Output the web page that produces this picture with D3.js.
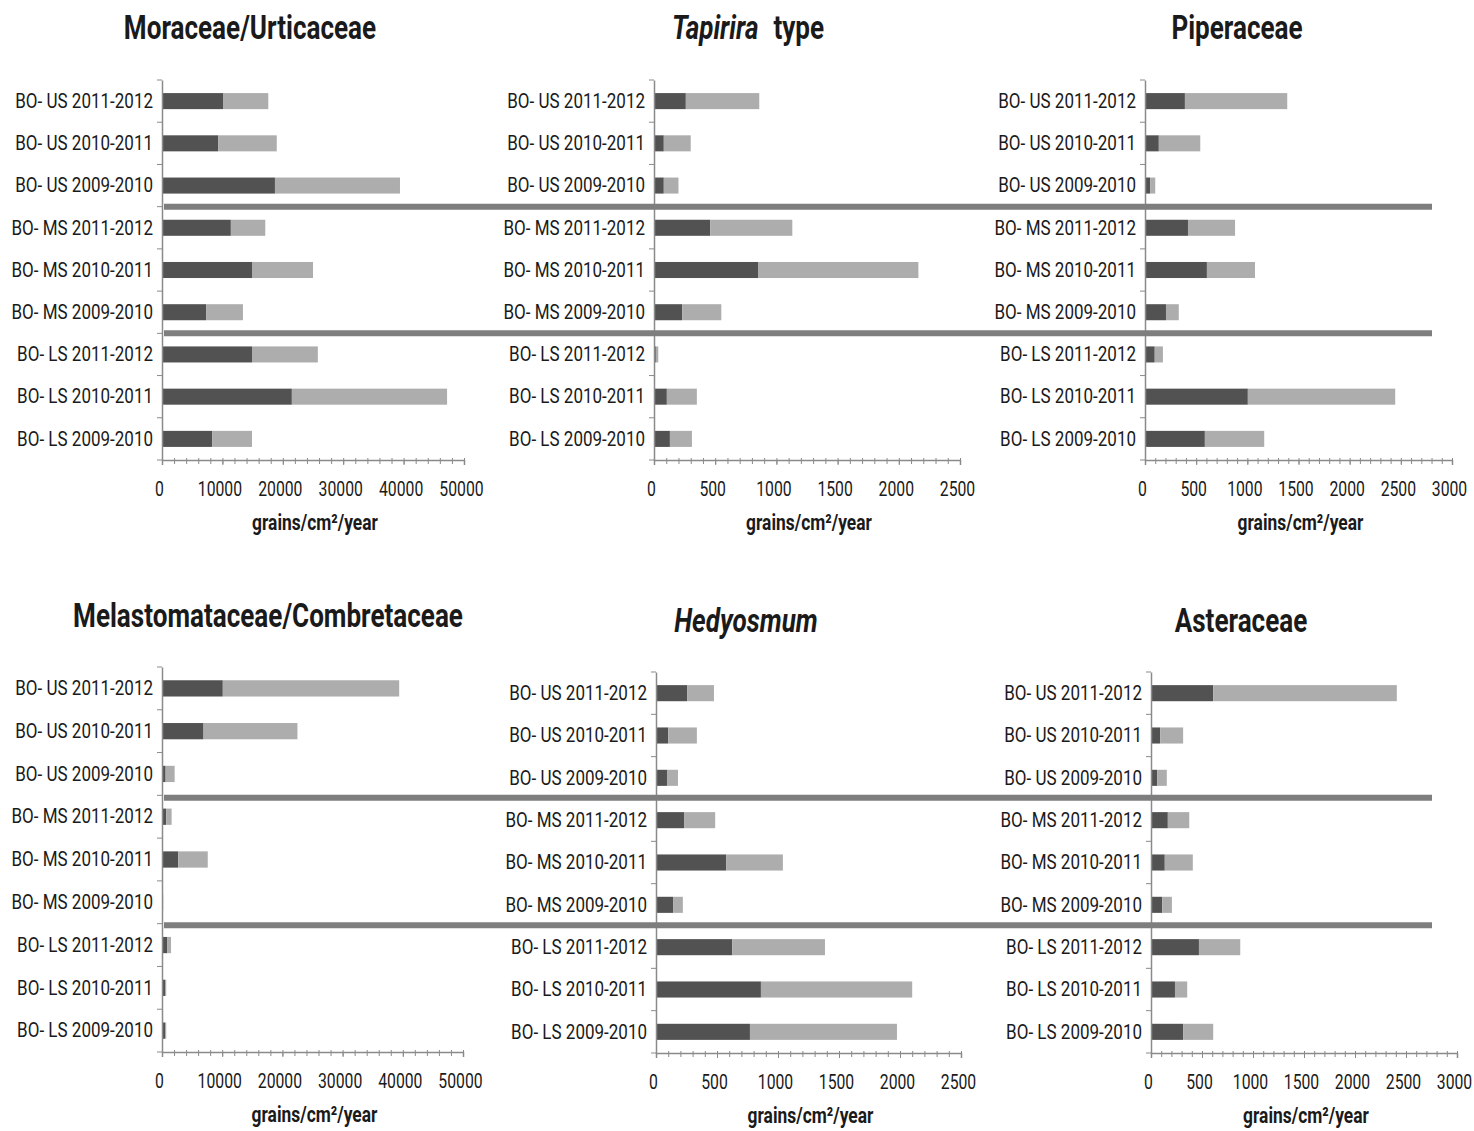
<!DOCTYPE html>
<html>
<head>
<meta charset="utf-8">
<script src="https://cdn.jsdelivr.net/npm/d3@7"></script>
<style>
  html, body { margin: 0; padding: 0; background: #ffffff; }
  svg { display: block; }
  text { font-family: Roboto, "Noto Sans", sans-serif; fill: #1a1a1a; }
</style>
</head>
<body>
<svg id="chart" width="1474" height="1131"></svg>
<script>
// Sites and seasons, listed top to bottom
const categories = [
  "BO- US 2011-2012", "BO- US 2010-2011", "BO- US 2009-2010",
  "BO- MS 2011-2012", "BO- MS 2010-2011", "BO- MS 2009-2010",
  "BO- LS 2011-2012", "BO- LS 2010-2011", "BO- LS 2009-2010"
];

// Pollen accumulation (grains/cm²/year): first (dark) and second (light) stacked segment
const moraceaeDark  = [10100, 9300, 18700, 11400, 14900, 7300, 14900, 21500, 8300];
const moraceaeLight = [7500, 9700, 20700, 5700, 10100, 6100, 10900, 25700, 6600];

const tapiriraDark  = [260, 80, 80, 460, 850, 230, 15, 105, 130];
const tapiriraLight = [600, 220, 120, 670, 1310, 320, 20, 245, 180];

const piperaceaeDark  = [390, 135, 50, 420, 605, 205, 95, 1005, 585];
const piperaceaeLight = [1000, 405, 50, 460, 470, 125, 80, 1440, 580];

const melastomDark  = [10100, 6900, 600, 700, 2700, 100, 900, 500, 500];
const melastomLight = [29300, 15600, 1500, 900, 4900, 100, 600, 200, 200];

const hedyosmumDark  = [255, 100, 90, 230, 575, 140, 625, 860, 770];
const hedyosmumLight = [220, 235, 90, 255, 465, 80, 760, 1240, 1205];

const asteraceaeDark  = [610, 90, 60, 165, 135, 110, 470, 235, 315];
const asteraceaeLight = [1800, 225, 95, 210, 275, 95, 405, 120, 295];

// Axis tick values
const ticks50k = [0, 10000, 20000, 30000, 40000, 50000];
const ticks2500 = [0, 500, 1000, 1500, 2000, 2500];
const ticks3000 = [0, 500, 1000, 1500, 2000, 2500, 3000];

const axisTitle = "grains/cm²/year";

// Panel definitions: title pieces, data and plot frame
const panels = [
  { title: [{ t: "Moraceae/Urticaceae" }], tx: 250, ty: 39,
    dark: moraceaeDark, light: moraceaeLight, ticks: ticks50k, minor: 2000,
    x0: 162, x1: 464, y0: 80, y1: 460 },
  { title: [{ t: "Tapirira", it: true }, { t: "type", gap: 15 }], tx: 748, ty: 39,
    dark: tapiriraDark, light: tapiriraLight, ticks: ticks2500, minor: 100,
    x0: 654, x1: 960, y0: 80, y1: 460 },
  { title: [{ t: "Piperaceae" }], tx: 1237, ty: 39,
    dark: piperaceaeDark, light: piperaceaeLight, ticks: ticks3000, minor: 100,
    x0: 1145, x1: 1452, y0: 80, y1: 460 },
  { title: [{ t: "Melastomataceae/Combretaceae" }], tx: 268, ty: 627,
    dark: melastomDark, light: melastomLight, ticks: ticks50k, minor: 2000,
    x0: 162, x1: 463, y0: 667, y1: 1052 },
  { title: [{ t: "Hedyosmum", it: true }], tx: 746, ty: 632,
    dark: hedyosmumDark, light: hedyosmumLight, ticks: ticks2500, minor: 100,
    x0: 656, x1: 961, y0: 672, y1: 1053 },
  { title: [{ t: "Asteraceae" }], tx: 1241, ty: 632,
    dark: asteraceaeDark, light: asteraceaeLight, ticks: ticks3000, minor: 100,
    x0: 1151, x1: 1457, y0: 672, y1: 1053 }
];

const DARK = "#525252";
const LIGHT = "#adadad";
const AXIS = "#8a8a8a";
const SEP = "#7e7e7e";

// Narrow, Calibri-like lettering: squeeze each text horizontally by a factor
function condense(sel, k) {
  sel.each(function () {
    const w = this.getComputedTextLength();
    if (w > 0) {
      this.setAttribute("textLength", (w * k).toFixed(2));
      this.setAttribute("lengthAdjust", "spacingAndGlyphs");
    }
  });
}

const svg = d3.select("#chart");
svg.append("rect").attr("width", 1474).attr("height", 1131).attr("fill", "#ffffff");

const sepLayer = svg.append("g");

panels.forEach(p => {
  const g = svg.append("g");
  const domainMax = p.ticks[p.ticks.length - 1];
  const x = d3.scaleLinear().domain([0, domainMax]).range([p.x0, p.x1]);
  const y = d3.scaleBand().domain(categories).range([p.y0, p.y1])
    .paddingInner(0.62).paddingOuter(0.31);
  p.x = x; p.y = y;

  // stacked bars
  const stackData = categories.map((c, i) => ({ cat: c, dark: p.dark[i], light: p.light[i] }));
  const series = d3.stack().keys(["dark", "light"])(stackData);
  g.selectAll("g.seg").data(series).join("g")
    .attr("fill", d => d.key === "dark" ? DARK : LIGHT)
    .selectAll("rect").data(d => d).join("rect")
      .attr("x", d => x(d[0]))
      .attr("width", d => Math.max(0, x(d[1]) - x(d[0])))
      .attr("y", d => y(d.data.cat))
      .attr("height", y.bandwidth());

  // x axis with minor ticks
  const minorTicks = d3.range(0, domainMax + p.minor / 2, p.minor);
  const xAxisMinor = d3.axisBottom(x).tickValues(minorTicks).tickSize(4).tickFormat("");
  const gxm = g.append("g").attr("transform", `translate(0,${p.y1})`).call(xAxisMinor);
  gxm.select(".domain").remove();
  gxm.selectAll("line").attr("stroke", AXIS).attr("y1", -2);

  const xAxis = d3.axisBottom(x).tickValues(p.ticks).tickSize(5).tickPadding(16)
    .tickFormat(d3.format("d"));
  const gx = g.append("g").attr("transform", `translate(0,${p.y1})`).call(xAxis);
  gx.select(".domain").attr("stroke", AXIS).attr("stroke-width", 1.5);
  gx.selectAll("line").attr("stroke", AXIS);
  gx.selectAll("text").attr("font-size", 21).attr("fill", "#1a1a1a")
    .attr("font-family", "Roboto, sans-serif").attr("dx", -3)
    .call(condense, 0.75);

  // y axis: category labels, ticks at band boundaries
  const gy = g.append("g").attr("transform", `translate(${p.x0},0)`)
    .call(d3.axisLeft(y).tickSize(0).tickPadding(9));
  gy.select(".domain").attr("stroke", AXIS).attr("stroke-width", 1.5);
  gy.selectAll("text").attr("font-size", 21).attr("fill", "#1a1a1a")
    .attr("font-family", "Roboto, sans-serif")
    .call(condense, 0.81);
  const step = y.step();
  g.selectAll("line.ytick").data(d3.range(categories.length + 1)).join("line")
    .attr("class", "ytick")
    .attr("x1", p.x0 - 5).attr("x2", p.x0)
    .attr("y1", i => p.y0 + i * step).attr("y2", i => p.y0 + i * step)
    .attr("stroke", AXIS);

  // axis title
  g.append("text")
    .attr("x", (p.x0 + p.x1) / 2 + 2)
    .attr("y", p.y1 + 70)
    .attr("text-anchor", "middle")
    .attr("font-size", 22).attr("font-weight", "bold")
    .text(axisTitle)
    .call(condense, 0.79);

  // panel title: each piece is its own text, laid out left to right and centred
  const tg = g.append("g");
  let cursor = 0;
  p.title.forEach(part => {
    cursor += part.gap || 0;
    const piece = tg.append("text")
      .attr("x", cursor).attr("y", p.ty)
      .attr("font-size", 33).attr("font-weight", "bold")
      .attr("font-style", part.it ? "italic" : "normal")
      .text(part.t);
    piece.call(condense, 0.79);
    cursor += +piece.attr("textLength");
  });
  tg.attr("transform", `translate(${p.tx - cursor / 2},0)`);
});

// Horizontal separators between the US / MS / LS groups, one pair per row
[[0, 1, 2], [3, 4, 5]].forEach(row => {
  const first = panels[row[0]];
  const right = 1432;
  [3, 6].forEach(k => {
    const yy = d3.mean(row, i => panels[i].y0 + k * panels[i].y.step());
    sepLayer.append("line")
      .attr("x1", first.x0 + 2).attr("x2", right)
      .attr("y1", yy).attr("y2", yy)
      .attr("stroke", SEP).attr("stroke-width", 6);
  });
});
// separators sit above the bars
sepLayer.raise();
</script>
</body>
</html>
